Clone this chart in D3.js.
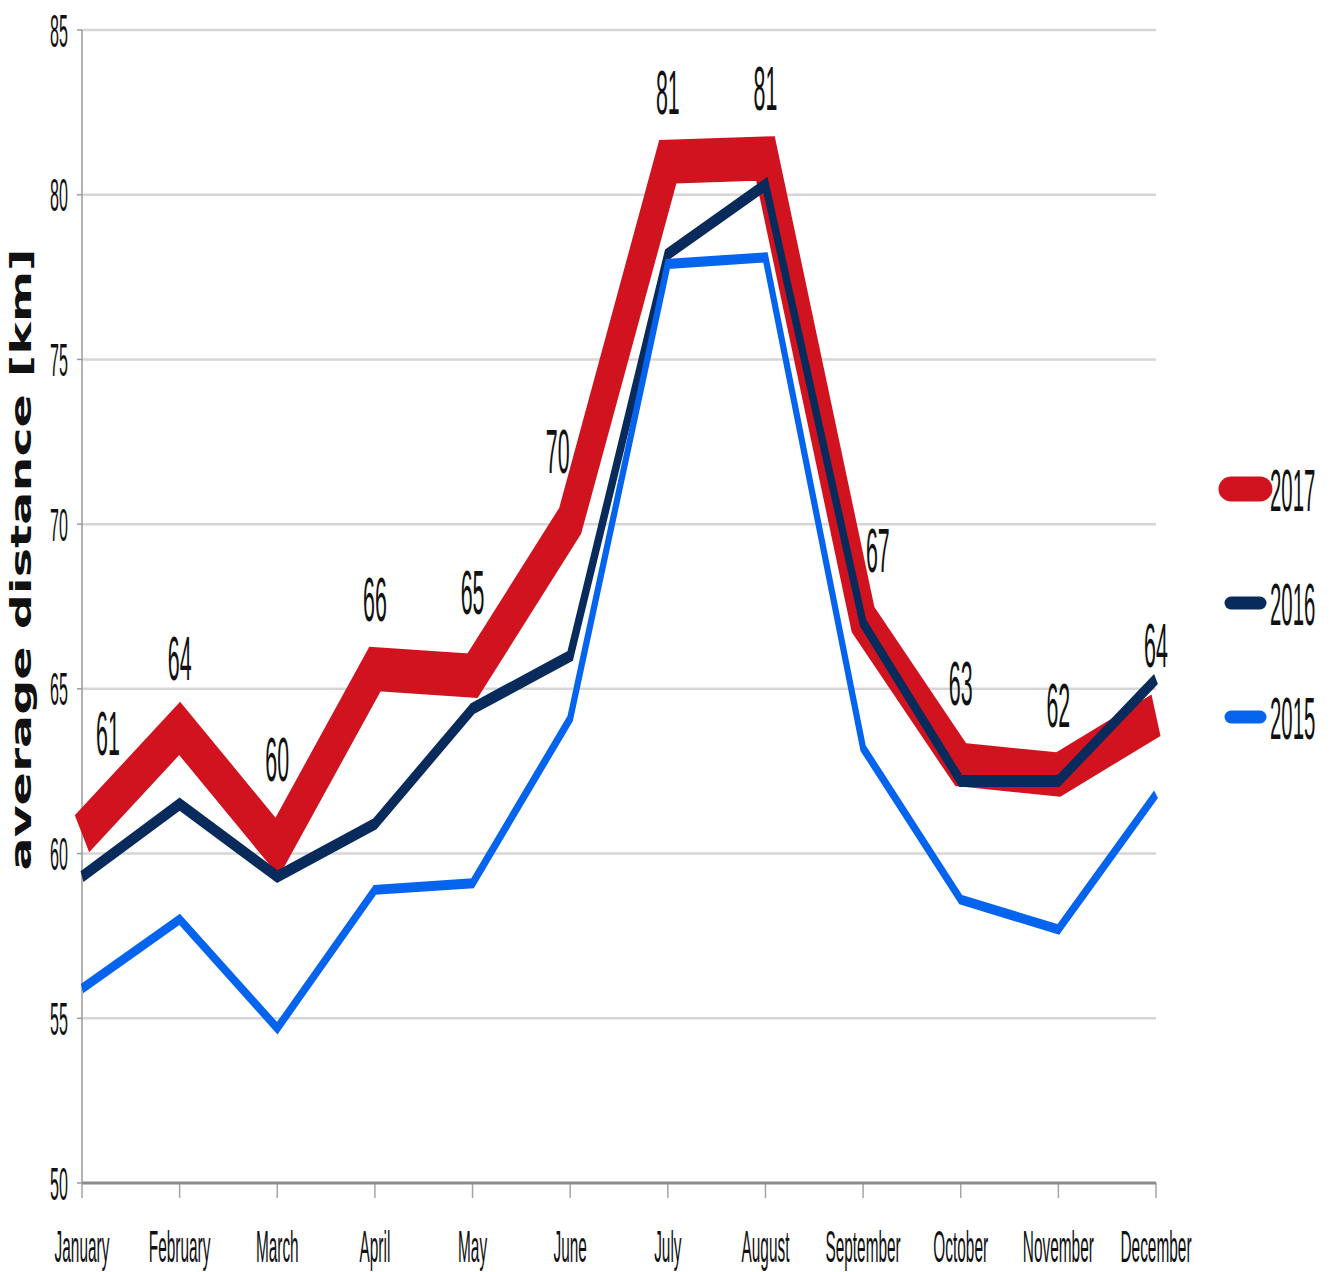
<!DOCTYPE html>
<html>
<head>
<meta charset="utf-8">
<script src="https://cdn.jsdelivr.net/npm/d3@7"></script>
<style>
  body { margin: 0; background: #fff; }
  text { font-family: "Liberation Sans", Arial, sans-serif; fill: #111; }
</style>
</head>
<body>
<svg width="1331" height="1272"></svg>
<script>
// data
var months = ["January", "February", "March", "April", "May", "June",
    "July", "August", "September", "October", "November", "December"];
var years = ["2017", "2016", "2015"];
var values2017 = [60.6, 63.8, 60.2, 65.6, 65.4, 70.1, 81.0, 81.1, 67.1, 62.7, 62.4, 64.2];
var values2016 = [59.3, 61.5, 59.3, 60.9, 64.4, 66.0, 78.2, 80.3, 67.0, 62.2, 62.2, 65.3];
var values2015 = [55.9, 58.0, 54.7, 58.9, 59.1, 64.1, 77.9, 78.1, 63.2, 58.6, 57.7, 61.8];
var yTicks = [50, 55, 60, 65, 70, 75, 80, 85];

var svg = d3.select("svg"),
    margin = {top: 30, right: 175, bottom: 89, left: 82},
    width = +svg.attr("width") - margin.left - margin.right,
    height = +svg.attr("height") - margin.top - margin.bottom;

// the whole picture looks squeezed sideways, so lines get an oval pen
var squeeze = 0.6,
    textSqueeze = 0.35;

var x = d3.scalePoint().domain(months).range([margin.left, margin.left + width]),
    y = d3.scaleLinear().domain([50, 85]).range([margin.top + height, margin.top]);

var series = [
    {name: "2017", values: values2017, color: "#d11320", width: 44, legendWidth: 25},
    {name: "2016", values: values2016, color: "#082b5c", width: 12, legendWidth: 13},
    {name: "2015", values: values2015, color: "#0564ee", width: 10, legendWidth: 13}
];

function squeezed(sel, k) {
    sel.attr("transform", function () {
        var t = d3.select(this);
        return "translate(" + t.attr("data-x") + "," + t.attr("data-y") + ") scale(" + k + ",1)";
    });
}

// grid
svg.append("g")
    .selectAll("line")
    .data(yTicks.slice(1))
    .enter().append("line")
    .attr("x1", margin.left)
    .attr("x2", margin.left + width)
    .attr("y1", function (d) { return y(d); })
    .attr("y2", function (d) { return y(d); })
    .attr("stroke", "#d6d6d6")
    .attr("stroke-width", 2.5);

// y axis
svg.append("line")
    .attr("x1", margin.left).attr("x2", margin.left)
    .attr("y1", y(85)).attr("y2", y(50))
    .attr("stroke", "#9a9a9a").attr("stroke-width", 1.5);

svg.append("g")
    .selectAll("line")
    .data(yTicks)
    .enter().append("line")
    .attr("x1", margin.left - 5).attr("x2", margin.left)
    .attr("y1", function (d) { return y(d); })
    .attr("y2", function (d) { return y(d); })
    .attr("stroke", "#9a9a9a").attr("stroke-width", 1.5);

svg.append("g")
    .selectAll("text")
    .data(yTicks)
    .enter().append("text")
    .attr("data-x", margin.left - 14)
    .attr("data-y", function (d) { return y(d); })
    .attr("dy", "0.36em")
    .attr("text-anchor", "end")
    .style("font-size", "46px")
    .text(function (d) { return d; })
    .call(squeezed, textSqueeze);

// x axis
svg.append("g")
    .selectAll("line")
    .data(months)
    .enter().append("line")
    .attr("x1", function (d) { return x(d); })
    .attr("x2", function (d) { return x(d); })
    .attr("y1", y(50)).attr("y2", y(50) + 15)
    .attr("stroke", "#a5a5a5").attr("stroke-width", 1.5);

svg.append("line")
    .attr("x1", margin.left).attr("x2", margin.left + width)
    .attr("y1", y(50)).attr("y2", y(50))
    .attr("stroke", "#8c8c8c").attr("stroke-width", 3);

svg.append("g")
    .selectAll("text")
    .data(months)
    .enter().append("text")
    .attr("data-x", function (d) { return x(d); })
    .attr("data-y", y(50) + 79)
    .attr("text-anchor", "middle")
    .style("font-size", "44px")
    .text(function (d) { return d; })
    .call(squeezed, textSqueeze);

// axis title
svg.append("text")
    .attr("transform", "translate(31," + (margin.top + height / 2 - 47) + ") rotate(-90) scale(1,0.56)")
    .attr("text-anchor", "middle")
    .attr("textLength", 622)
    .attr("lengthAdjust", "spacingAndGlyphs")
    .style("font-family", "'DejaVu Sans', sans-serif")
    .style("font-weight", "bold")
    .style("font-size", "49px")
    .text("average distance [km]");

// lines, drawn in a squeezed group so the pen gets oval
var plot = svg.append("g").attr("transform", "scale(" + squeeze + ",1)");

var line = d3.line()
    .x(function (d, i) { return x(months[i]) / squeeze; })
    .y(function (d) { return y(d); });

plot.selectAll(".series")
    .data(series)
    .enter().append("path")
    .attr("class", "series")
    .attr("d", function (d) { return line(d.values); })
    .attr("fill", "none")
    .attr("stroke", function (d) { return d.color; })
    .attr("stroke-width", function (d) { return d.width; })
    .attr("stroke-linejoin", "miter")
    .attr("stroke-miterlimit", 6);

// value labels for 2017: sit above the band, pushed sideways off steep slopes
var red = series[0],
    labelHalf = 12,
    xs = months.map(function (m) { return x(m); });

function halfThick(i) {
    var slope = (y(red.values[i + 1]) - y(red.values[i])) / (xs[i + 1] - xs[i]);
    return red.width / 2 * Math.sqrt(1 + Math.pow(slope * squeeze, 2));
}

function topEdge(px) {
    var k = xs.findIndex(function (v) { return Math.abs(v - px) < 0.5; });
    if (k >= 0) {
        var halves = [];
        if (k > 0) halves.push(halfThick(k - 1));
        if (k < xs.length - 1) halves.push(halfThick(k));
        return y(red.values[k]) - d3.min(halves);
    }
    var i = Math.max(0, Math.min(xs.length - 2, d3.bisectRight(xs, px) - 1));
    var t = Math.max(0, Math.min(1, (px - xs[i]) / (xs[i + 1] - xs[i])));
    var y0 = y(red.values[i]), y1 = y(red.values[i + 1]);
    return y0 + t * (y1 - y0) - halfThick(i);
}

function labelX(d, i) {
    var v = red.values, px = xs[i];
    if (i === 0) return Math.max(px, margin.left + labelHalf + 14);
    if (i === v.length - 1) return px;
    var a = d - v[i - 1], b = v[i + 1] - d;
    if (a * b > 0 && Math.abs(a) > 0.5 && Math.abs(b) > 0.5) {
        return px - 0.8 * (a + b);
    }
    return px;
}

function labelY(d, i) {
    var lx = labelX(d, i);
    var clear = d3.min([lx - labelHalf, lx, lx + labelHalf], topEdge) - 12;
    return Math.min(y(d) - 48, clear);
}

svg.append("g")
    .selectAll("text")
    .data(values2017)
    .enter().append("text")
    .attr("data-x", labelX)
    .attr("data-y", labelY)
    .attr("text-anchor", "middle")
    .style("font-size", "63px")
    .text(function (d) { return Math.round(d); })
    .call(squeezed, 0.34);

// legend
var legendY = d3.scalePoint().domain(years).range([489, 717]);

var legend = svg.append("g")
    .selectAll("g")
    .data(series)
    .enter().append("g");

legend.append("line")
    .attr("x1", 1224 + 7).attr("x2", 1267 - 7)
    .attr("y1", function (d) { return legendY(d.name); })
    .attr("y2", function (d) { return legendY(d.name); })
    .attr("stroke", function (d) { return d.color; })
    .attr("stroke-width", function (d) { return d.legendWidth; })
    .attr("stroke-linecap", "round");

legend.append("text")
    .attr("data-x", 1270)
    .attr("data-y", function (d) { return legendY(d.name); })
    .attr("dy", "0.36em")
    .style("font-size", "60px")
    .text(function (d) { return d.name; })
    .call(squeezed, 0.34);
</script>
</body>
</html>
